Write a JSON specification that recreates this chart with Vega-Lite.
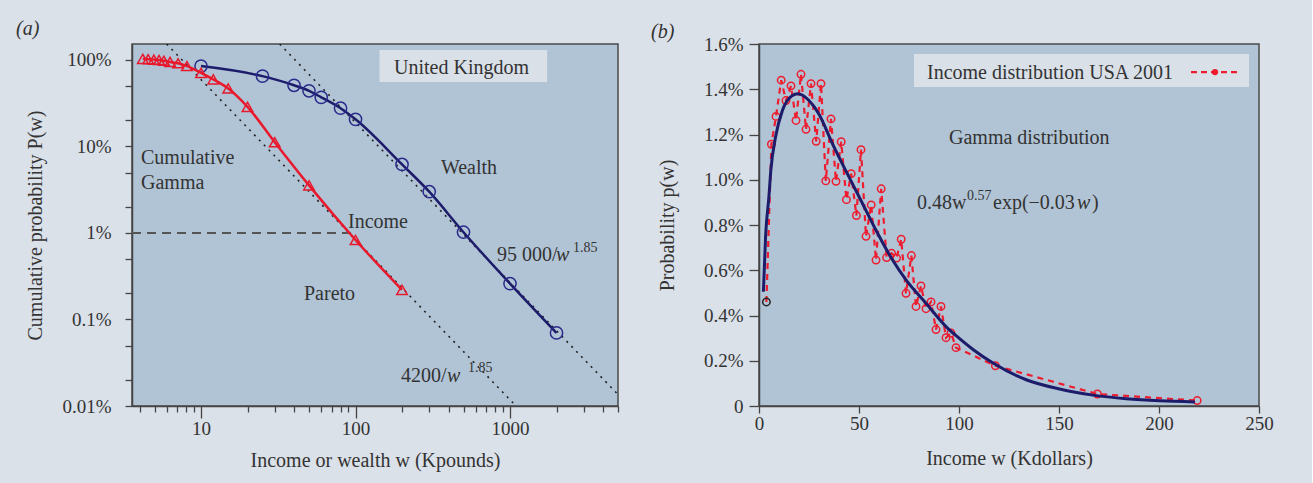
{
  "$schema": "https://vega.github.io/schema/vega-lite/v6.json",
  "background": "#dbe1e9",
  "padding": {"left": 15, "top": 18, "right": 38, "bottom": 12},
  "bounds": "flush",
  "spacing": 141,
  "config": {
    "view": {"fill": "#b1c4d6", "stroke": "#4a4a4a", "strokeWidth": 1.5},
    "font": "Liberation Serif",
    "axis": {
      "labelFont": "Liberation Serif", "titleFont": "Liberation Serif",
      "labelFontSize": 19, "titleFontSize": 20, "titleFontWeight": "normal",
      "labelColor": "#333333", "titleColor": "#333333",
      "domainColor": "#444444", "tickColor": "#444444",
      "domainWidth": 1.5, "tickWidth": 1.3, "grid": false
    }
  },
  "datasets": {
    "ukbox": [{"w": 143, "w2": 1738, "p": 130, "p2": 55.5}],
    "pareto": [
      {"line": "4200/w^1.85", "w": 5.99, "p": 153},
      {"line": "4200/w^1.85", "w": 1094, "p": 0.01},
      {"line": "95000/w^1.85", "w": 32.3, "p": 153},
      {"line": "95000/w^1.85", "w": 5000, "p": 0.0136}
    ],
    "onepct": [{"w": 3.575, "p": 1}, {"w": 97, "p": 1}],
    "wealth": [
      {"w": 10, "p": 85}, {"w": 25, "p": 65}, {"w": 40, "p": 51}, {"w": 50, "p": 44},
      {"w": 60, "p": 37}, {"w": 80, "p": 27.7}, {"w": 100, "p": 20.6}, {"w": 200, "p": 6.2},
      {"w": 300, "p": 3.0}, {"w": 500, "p": 1.02}, {"w": 1000, "p": 0.26}, {"w": 2000, "p": 0.07}
    ],
    "income": [
      {"w": 4.2, "p": 103}, {"w": 4.55, "p": 102}, {"w": 4.95, "p": 101}, {"w": 5.35, "p": 100},
      {"w": 5.75, "p": 98}, {"w": 6.3, "p": 95}, {"w": 7.1, "p": 91.5}, {"w": 8.1, "p": 85},
      {"w": 10, "p": 71}, {"w": 12, "p": 59.7}, {"w": 15, "p": 46.9}, {"w": 20, "p": 28.7},
      {"w": 30, "p": 11.2}, {"w": 50, "p": 3.55}, {"w": 100, "p": 0.83}, {"w": 200, "p": 0.22}
    ],
    "lefttext": [
      {"label": "United Kingdom", "w": 177.6, "p": 68.8},
      {"label": "Cumulative", "w": 4.09, "p": 6.22},
      {"label": "Gamma", "w": 4.09, "p": 3.19},
      {"label": "Wealth", "w": 357, "p": 4.77},
      {"label": "Income", "w": 89.4, "p": 1.127},
      {"label": "Pareto", "w": 46.4, "p": 0.1694},
      {"label": "95 000/", "w": 824, "p": 0.48},
      {"label": "4200/", "w": 197, "p": 0.019}
    ],
    "leftital": [
      {"label": "(a)", "w": 0.635, "p": 195},
      {"label": "w", "w": 1986, "p": 0.48},
      {"label": "w", "w": 391, "p": 0.019}
    ],
    "leftsup": [
      {"label": "1.85", "w": 2558, "p": 0.61},
      {"label": "1.85", "w": 535, "p": 0.0248}
    ],
    "legbox": [{"w": 77.5, "w2": 245, "p": 1.5557, "p2": 1.41}],
    "gamma": [
      {"w": 2.2, "p": 0.505}, {"w": 3.3, "p": 0.75}, {"w": 5.0, "p": 0.93}, {"w": 5.9, "p": 1.04},
      {"w": 8.3, "p": 1.19}, {"w": 11.7, "p": 1.306}, {"w": 16.7, "p": 1.372}, {"w": 19.4, "p": 1.38},
      {"w": 25, "p": 1.35}, {"w": 30, "p": 1.29}, {"w": 36.7, "p": 1.16}, {"w": 43.4, "p": 1.04},
      {"w": 50.1, "p": 0.924}, {"w": 58.5, "p": 0.777}, {"w": 66.8, "p": 0.645}, {"w": 73.5, "p": 0.557},
      {"w": 83.5, "p": 0.454}, {"w": 93.5, "p": 0.351}, {"w": 100, "p": 0.3}, {"w": 107, "p": 0.25},
      {"w": 117, "p": 0.19}, {"w": 133.6, "p": 0.116}, {"w": 150.3, "p": 0.075}, {"w": 167, "p": 0.048},
      {"w": 183.7, "p": 0.032}, {"w": 200.4, "p": 0.023}, {"w": 218, "p": 0.018}
    ],
    "usa": [
      {"w": 3.7, "p": 0.46}, {"w": 6.2, "p": 1.157}, {"w": 8.5, "p": 1.28}, {"w": 11.1, "p": 1.44},
      {"w": 13.5, "p": 1.35}, {"w": 16.0, "p": 1.415}, {"w": 18.5, "p": 1.262}, {"w": 21.0, "p": 1.466},
      {"w": 23.5, "p": 1.223}, {"w": 26.0, "p": 1.425}, {"w": 28.6, "p": 1.17}, {"w": 31.0, "p": 1.425},
      {"w": 33.4, "p": 0.995}, {"w": 36.0, "p": 1.269}, {"w": 38.5, "p": 0.993}, {"w": 41.1, "p": 1.168},
      {"w": 43.7, "p": 0.912}, {"w": 46.1, "p": 1.027}, {"w": 48.7, "p": 0.842}, {"w": 51.0, "p": 1.133},
      {"w": 53.5, "p": 0.75}, {"w": 56.1, "p": 0.889}, {"w": 58.5, "p": 0.645}, {"w": 61.1, "p": 0.96},
      {"w": 63.8, "p": 0.656}, {"w": 66.3, "p": 0.675}, {"w": 68.8, "p": 0.654}, {"w": 71.1, "p": 0.737},
      {"w": 73.5, "p": 0.498}, {"w": 76.2, "p": 0.665}, {"w": 78.5, "p": 0.44}, {"w": 81.0, "p": 0.531},
      {"w": 83.5, "p": 0.43}, {"w": 86.0, "p": 0.46}, {"w": 88.5, "p": 0.338}, {"w": 91.0, "p": 0.44},
      {"w": 93.5, "p": 0.302}, {"w": 96.0, "p": 0.323}, {"w": 98.5, "p": 0.258}, {"w": 118.2, "p": 0.178},
      {"w": 169.2, "p": 0.053}, {"w": 219.1, "p": 0.024}
    ],
    "legline": [{"w": 216, "p": 1.476}, {"w": 240, "p": 1.476}],
    "legdot": [{"w": 228, "p": 1.476}],
    "righttext": [
      {"label": "Income distribution USA 2001", "w": 84, "p": 1.4457},
      {"label": "Gamma distribution", "w": 95, "p": 1.159},
      {"label": "0.48w", "w": 79, "p": 0.8727},
      {"label": "exp(\u22120.03", "w": 117, "p": 0.8727},
      {"label": ")", "w": 166.5, "p": 0.8727}
    ],
    "rightital": [
      {"label": "(b)", "w": -54, "p": 1.626},
      {"label": "w", "w": 159, "p": 0.8727}
    ],
    "rightsup": [{"label": "0.57", "w": 104, "p": 0.912}]
  },
  "hconcat": [
    {
      "width": 486,
      "height": 362,
      "encoding": {
        "x": {
          "field": "w", "type": "quantitative",
          "scale": {"type": "log", "domain": [3.575, 5000], "nice": false},
          "axis": {
            "title": "Income or wealth w (Kpounds)",
            "values": [4, 5, 6, 7, 8, 9, 10, 20, 30, 40, 50, 60, 70, 80, 90, 100, 200, 300, 400, 500, 600, 700, 800, 900, 1000, 2000, 3000, 4000, 5000],
            "labelExpr": "indexof([10, 100, 1000], datum.value) >= 0 ? datum.value + '' : ''",
            "tickSize": {"condition": {"test": "indexof([10, 100, 1000], datum.value) >= 0", "value": 12}, "value": 6},
            "labelPadding": 1,
            "labelFlush": false,
            "titlePadding": 12
          }
        },
        "y": {
          "field": "p", "type": "quantitative",
          "scale": {"type": "log", "domain": [0.01, 153], "nice": false},
          "axis": {
            "title": "Cumulative probability P(w)",
            "values": [0.01, 0.02, 0.05, 0.1, 0.2, 0.5, 1, 2, 5, 10, 20, 50, 100],
            "labelExpr": "indexof([0.01, 0.1, 1, 10, 100], datum.value) >= 0 ? datum.value + '%' : ''",
            "tickSize": 7,
            "labelPadding": 14,
            "titlePadding": 16
          }
        }
      },
      "layer": [
        {
          "data": {"name": "ukbox"},
          "mark": {"type": "rect", "fill": "#d9e0e8"},
          "encoding": {"x2": {"field": "w2"}, "y2": {"field": "p2"}}
        },
        {
          "data": {"name": "pareto"},
          "mark": {"type": "line", "color": "#222222", "strokeWidth": 1.6, "strokeDash": [2, 5], "clip": true},
          "encoding": {"detail": {"field": "line"}}
        },
        {
          "data": {"name": "onepct"},
          "mark": {"type": "line", "color": "#555555", "strokeWidth": 2, "strokeDash": [9, 6]},
          "encoding": {}
        },
        {
          "data": {"name": "wealth"},
          "mark": {"type": "line", "color": "#1c1c6a", "strokeWidth": 2.5, "interpolate": "monotone"},
          "encoding": {}
        },
        {
          "data": {"name": "wealth"},
          "mark": {"type": "point", "shape": "circle", "filled": false, "color": "#2a2a8a", "size": 150, "strokeWidth": 1.5, "opacity": 1},
          "encoding": {}
        },
        {
          "data": {"name": "income"},
          "mark": {"type": "line", "color": "#e8192c", "strokeWidth": 2.5, "interpolate": "monotone"},
          "encoding": {}
        },
        {
          "data": {"name": "income"},
          "mark": {"type": "point", "shape": "triangle-up", "filled": false, "color": "#e8192c", "size": 110, "strokeWidth": 1.5, "opacity": 1},
          "encoding": {}
        },
        {
          "data": {"name": "lefttext"},
          "mark": {"type": "text", "fontSize": 20, "fill": "#333333", "align": "left", "baseline": "alphabetic", "clip": false},
          "encoding": {"text": {"field": "label"}}
        },
        {
          "data": {"name": "leftital"},
          "mark": {"type": "text", "fontSize": 20, "fontStyle": "italic", "fill": "#333333", "align": "left", "baseline": "alphabetic", "clip": false},
          "encoding": {"text": {"field": "label"}}
        },
        {
          "data": {"name": "leftsup"},
          "mark": {"type": "text", "fontSize": 14, "fill": "#333333", "align": "left", "baseline": "alphabetic"},
          "encoding": {"text": {"field": "label"}}
        }
      ]
    },
    {
      "width": 500,
      "height": 362,
      "encoding": {
        "x": {
          "field": "w", "type": "quantitative",
          "scale": {"domain": [0, 250], "nice": false},
          "axis": {
            "title": "Income w (Kdollars)",
            "values": [0, 50, 100, 150, 200, 250],
            "tickSize": 7,
            "labelPadding": 1,
            "labelFlush": false,
            "titlePadding": 15
          }
        },
        "y": {
          "field": "p", "type": "quantitative",
          "scale": {"domain": [0, 1.6], "nice": false},
          "axis": {
            "title": "Probability p(w)",
            "values": [0, 0.2, 0.4, 0.6, 0.8, 1.0, 1.2, 1.4, 1.6],
            "labelExpr": "datum.value == 0 ? '0' : format(datum.value, '.1f') + '%'",
            "tickSize": 10,
            "labelPadding": 6,
            "titlePadding": 26
          }
        }
      },
      "layer": [
        {
          "data": {"name": "legbox"},
          "mark": {"type": "rect", "fill": "#d9e0e8"},
          "encoding": {"x2": {"field": "w2"}, "y2": {"field": "p2"}}
        },
        {
          "data": {"name": "usa"},
          "mark": {"type": "line", "color": "#ee1c2e", "strokeWidth": 2.2, "strokeDash": [6, 5]},
          "encoding": {}
        },
        {
          "data": {"name": "usa"},
          "mark": {"type": "point", "shape": "circle", "filled": false, "size": 55, "strokeWidth": 1.5, "opacity": 1},
          "encoding": {
            "color": {"condition": {"test": "datum.w < 5", "value": "#222222"}, "value": "#ee1c2e"}
          }
        },
        {
          "data": {"name": "gamma"},
          "mark": {"type": "line", "color": "#1c1c6a", "strokeWidth": 3, "interpolate": "monotone"},
          "encoding": {}
        },
        {
          "data": {"name": "legline"},
          "mark": {"type": "line", "color": "#ee1c2e", "strokeWidth": 2.2, "strokeDash": [6, 4]},
          "encoding": {}
        },
        {
          "data": {"name": "legdot"},
          "mark": {"type": "point", "shape": "circle", "filled": true, "size": 40, "color": "#ee1c2e", "opacity": 1},
          "encoding": {}
        },
        {
          "data": {"name": "righttext"},
          "mark": {"type": "text", "fontSize": 20, "fill": "#333333", "align": "left", "baseline": "alphabetic"},
          "encoding": {"text": {"field": "label"}}
        },
        {
          "data": {"name": "rightital"},
          "mark": {"type": "text", "fontSize": 20, "fontStyle": "italic", "fill": "#333333", "align": "left", "baseline": "alphabetic", "clip": false},
          "encoding": {"text": {"field": "label"}}
        },
        {
          "data": {"name": "rightsup"},
          "mark": {"type": "text", "fontSize": 14, "fill": "#333333", "align": "left", "baseline": "alphabetic"},
          "encoding": {"text": {"field": "label"}}
        }
      ]
    }
  ]
}
